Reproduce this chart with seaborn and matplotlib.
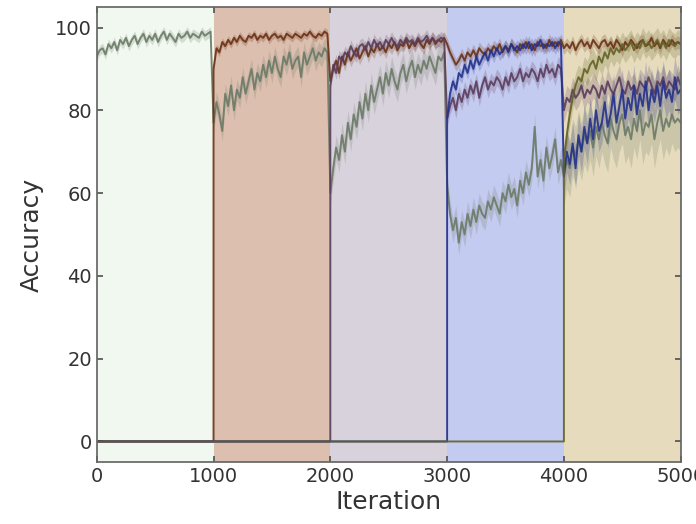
import matplotlib
matplotlib.use('Agg')
import matplotlib.pyplot as plt
import numpy as np
import pandas as pd
import seaborn as sns

# accuracy of each task, read every 25 iterations from the task's start
step = 25
task_names = ['Task 1', 'Task 2', 'Task 3', 'Task 4', 'Task 5']
task_starts = [0, 1000, 2000, 3000, 4000]

task1_acc = [
    93, 94.5, 95, 93.5, 96, 95, 96.5, 94.5, 97, 96, 97.5, 95.5, 97, 98, 96, 97.5, 98.5, 96.5, 98, 97,
    98.5, 96.5, 98, 99, 97, 98.5, 97.5, 96.5, 98.5, 97.5, 98, 99, 97.5, 98.5, 98, 97.5, 99, 98, 98.5, 99,
    77, 82, 79, 75, 84, 81, 86, 80, 85, 83, 88, 84, 87, 90, 85, 89, 87, 91, 88, 92,
    89, 93, 90, 88, 93, 91, 94, 90, 92, 93, 88, 94, 91, 93, 95, 92, 94, 93, 95, 94,
    60, 66, 71, 68, 74, 70, 77, 73, 79, 76, 82, 78, 84, 80, 86, 82, 85, 88, 84, 89,
    86, 90, 87, 85, 89, 91, 87, 90, 92, 88, 91, 89, 92, 90, 93, 91, 89, 93, 92, 94,
    62, 55, 51, 54, 48, 53, 50, 55, 52, 56, 53, 57, 55, 54, 58, 56, 59, 57, 55, 60,
    58, 62, 59, 61, 57, 63, 60, 65, 62, 66, 76, 64, 68, 63, 71, 66, 69, 73, 65, 68,
    64, 68, 66, 71, 69, 73, 70, 74, 72, 75, 71, 76, 73, 77, 74, 72, 78, 75, 73, 77,
    79, 74, 76, 73, 78, 75, 80, 74, 77, 76, 79, 73, 77, 80, 75, 78, 76, 79, 77, 78, 77,
]
task2_acc = [
    90, 95, 94, 96.5, 95.5, 97, 96, 97.5, 96.5, 98, 97, 96.5, 98, 97.5, 98.5, 97, 98, 97.5, 98.5, 97,
    98, 98.5, 97.5, 98, 97, 98.5, 98, 97.5, 98.5, 98, 97.5, 98.5, 98, 99, 98, 97.5, 98.5, 98, 99, 98.5,
    87, 90, 92, 89, 93, 91, 94, 92, 93.5, 95, 92.5, 94, 95.5, 93, 95, 94, 96, 94.5, 95.5, 94,
    96, 95, 96.5, 94.5, 96, 95.5, 97, 95, 96.5, 95.5, 97, 96, 95, 97, 96, 97.5, 96, 97, 96.5, 97.5,
    96, 94, 92.5, 91, 92, 93.5, 92, 94, 93, 94.5, 93, 95, 94, 93.5, 95, 94, 95.5, 94.5, 96, 94,
    95.5, 94.5, 96, 95, 94, 96, 95, 96.5, 95, 96, 94.5, 96.5, 95.5, 96, 95, 97, 95.5, 96.5, 95.5, 97,
    95, 96, 95, 96.5, 94.5, 96, 97, 95.5, 96.5, 95, 97, 96, 95, 96.5, 97, 95.5, 96.5, 95, 97, 96,
    94.5, 96.5, 95.5, 97, 96, 95, 96.5, 97, 95.5, 96, 97.5, 95.5, 96.5, 95, 97, 96, 95.5, 97, 96, 96.5, 96,
]
task3_acc = [
    86, 91, 89, 93, 92, 94, 93, 95.5, 94, 93, 95.5, 96, 94.5, 96.5, 95, 97, 95.5, 96.5, 95, 97,
    96, 97.5, 96, 95.5, 97, 96, 97.5, 96.5, 97, 96, 97.5, 96.5, 97, 98, 96.5, 97.5, 96.5, 97, 97.5, 97,
    78, 81, 83, 80, 84, 82, 85, 83, 86, 84, 87, 83, 86, 88, 85, 87, 86, 88, 87, 85,
    88, 86, 89, 87, 88, 90, 87, 89, 88, 90, 89, 87, 90, 88, 91, 89, 90, 88, 91, 90,
    80, 83, 82, 85, 83, 84, 86, 83, 85, 84, 86, 85, 83, 86, 84, 87, 85, 84, 86, 88,
    85, 84, 87, 85, 86, 84, 87, 86, 85, 88, 86, 84, 87, 86, 88, 85, 87, 86, 85, 88, 86,
]
task4_acc = [
    78, 84, 87, 85, 89, 88, 91, 89, 92, 90, 93, 91, 92.5, 94, 92, 94.5, 93, 95, 93.5, 94.5,
    95.5, 94, 96, 94.5, 95.5, 94.5, 96, 95, 96.5, 94.5, 96, 95.5, 97, 95, 96, 95.5, 96.5, 95, 96.5, 96,
    64, 70, 67, 72, 66, 74, 70, 76, 72, 78, 73, 80, 75, 77, 82, 76, 79, 84, 77, 81,
    85, 78, 83, 80, 86, 79, 84, 81, 87, 80, 85, 82, 86, 81, 87, 83, 85, 82, 88, 84, 85,
]
task5_acc = [
    68, 74, 79, 83, 86, 88, 87, 90, 89, 91, 92, 90, 93, 91.5, 94, 92.5, 95, 93.5, 95, 94,
    96, 94.5, 95.5, 96.5, 94.5, 96, 95, 97, 95.5, 96.5, 95, 96, 97, 95.5, 96.5, 95, 97, 96, 95.5, 96.5, 96,
]

# spread of the runs, one value per 1000-iteration block since the task start
task1_spread = [1.2, 2.5, 3, 3, 7]
task2_spread = [1, 1.5, 1.5, 1.5]
task3_spread = [1.5, 2, 3]
task4_spread = [1.5, 5]
task5_spread = [3]

line_colors = ['#6b7a67', '#6a3014', '#5a3c5c', '#24318a', '#626226']
block_colors = ['#f1f8ef', '#dcbfae', '#d8d2dc', '#c4cbf0', '#e6dcbd']

all_acc = [task1_acc, task2_acc, task3_acc, task4_acc, task5_acc]
all_spread = [task1_spread, task2_spread, task3_spread, task4_spread, task5_spread]

rows = []
for name, start, acc in zip(task_names, task_starts, all_acc):
    if start > 0:
        # accuracy is 0 before the task has been seen
        rows.append((name, 0, 0.0))
        rows.append((name, start, 0.0))
    for i, v in enumerate(acc):
        rows.append((name, start + i * step, v))
df = pd.DataFrame(rows, columns=['task', 'iteration', 'accuracy'])

sns.set_theme(style='ticks', rc={
    'xtick.direction': 'in', 'ytick.direction': 'in',
    'xtick.top': True, 'ytick.right': True,
    'axes.edgecolor': '#666666', 'xtick.color': '#555555', 'ytick.color': '#555555',
})
plt.rcParams['font.family'] = ['DejaVu Sans']

fig = plt.figure(figsize=(6.96, 5.24), dpi=100)
ax = fig.add_axes([0.139, 0.118, 0.839, 0.869])

for start, c in zip(task_starts, block_colors):
    ax.axvspan(start, start + 1000, color=c, lw=0, zorder=0)

for name, start, acc, spread, c in zip(task_names, task_starts, all_acc, all_spread, line_colors):
    x = start + np.arange(len(acc)) * step
    blk = np.minimum((x - start) // 1000, len(spread) - 1)
    s = np.array(spread)[blk]
    y = np.array(acc)
    ax.fill_between(x, y - s, y + s, color=c, alpha=0.22, lw=0, zorder=1)

sns.lineplot(data=df, x='iteration', y='accuracy', hue='task', palette=dict(zip(task_names, line_colors)),
             estimator=None, sort=False, lw=1.4, alpha=0.9, legend=False, ax=ax, zorder=2)

ax.set_xlim(0, 5000)
ax.set_ylim(-5, 105)
ax.set_xticks([0, 1000, 2000, 3000, 4000, 5000])
ax.set_yticks([0, 20, 40, 60, 80, 100])
ax.tick_params(labelsize=14, length=4, labelcolor='#333333')
ax.set_xlabel('Iteration', fontsize=18, color='#333333', labelpad=3)
ax.set_ylabel('Accuracy', fontsize=18, color='#333333', labelpad=8)

fig.savefig('out.png', dpi=100)
